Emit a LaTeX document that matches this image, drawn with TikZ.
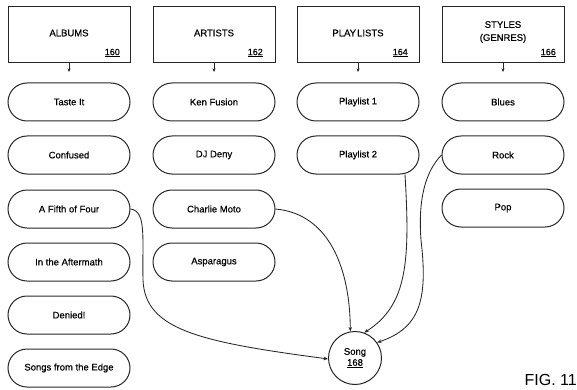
\documentclass[tikz,border=0pt]{standalone}
\usepackage{fontspec}
\setmainfont{Liberation Sans}[FakeBold=0.5]
\newfontfamily\figfont{Liberation Sans}
\usetikzlibrary{arrows.meta,calc}
\begin{document}
\begin{tikzpicture}[x=1pt,y=-1pt,
  ink/.style={draw=black!85, line width=1pt},
  hdr/.style={ink, minimum width=122pt, minimum height=56pt, inner sep=0pt},
  hdrtext/.style={font=\fontsize{9.5}{13}\selectfont, align=center, inner sep=0pt},
  num/.style={font=\fontsize{9}{10}\selectfont, inner sep=0pt, anchor=east},
  item/.style={ink, rounded corners=19pt, minimum width=122pt, minimum height=38pt, inner sep=0pt, font=\fontsize{9.5}{11}\selectfont},
  songnode/.style={ink, circle, minimum size=53pt, inner sep=0pt, align=center, font=\fontsize{9.5}{12}\selectfont},
  conn/.style={draw=black!85, line width=0.85pt, -{Stealth[length=4.5pt,width=3.5pt]}},
  stub/.style={draw=black!85, line width=0.85pt, -{Stealth[length=3.5pt,width=3pt]}}
]
\useasboundingbox (0,0) rectangle (577,390);

% header boxes
\node[hdr] (albums) at (69,35) {};
\node[hdr] (artists) at (214,35) {};
\node[hdr] (playlists) at (358,35) {};
\node[hdr] (styles) at (503,35) {};

\node[hdrtext] (albumsT) at (69,33) {ALBUMS};
\node[hdrtext] (artistsT) at (214,33) {ARTISTS};
\node[hdrtext] (playlistsT) at (358,33) {PLAY\hspace{0.12em}LISTS};
\node[hdrtext] (stylesT) at (503,32) {STYLES\\(GENRES)};

\node[num] (n160) at (120,53) {\underline{160}};
\node[num] (n162) at (263,53) {\underline{162}};
\node[num] (n164) at (408,53) {\underline{164}};
\node[num] (n166) at (556,53) {\underline{166}};

% stubs
\coordinate (sa) at (69,72);
\coordinate (sb) at (214,72);
\coordinate (sc) at (358,72);
\coordinate (sd) at (503,72);
\draw[stub] (albums.south) -- (sa);
\draw[stub] (artists.south) -- (sb);
\draw[stub] (playlists.south) -- (sc);
\draw[stub] (styles.south) -- (sd);

% albums
\node[item] (taste) at (69,102) {Taste It};
\node[item] (confused) at (69,155) {Confused};
\node[item] (fifth) at (69,209) {A Fifth of Four};
\node[item] (after) at (69,262) {In the Aftermath};
\node[item] (denied) at (69,315) {Denied!};
\node[item] (edge) at (69,368) {Songs from the Edge};

% artists
\node[item] (ken) at (214,102) {Ken Fusion};
\node[item] (dj) at (214,155) {DJ Deny};
\node[item] (charlie) at (214,209) {Charlie Moto};
\node[item] (asp) at (214,262) {Asparagus};

% playlists
\node[item] (pl1) at (358,102) {Playlist 1};
\node[item] (pl2) at (358,155) {Playlist 2};

% styles
\node[item] (blues) at (503,102) {Blues};
\node[item] (rock) at (503,155) {Rock};
\node[item] (pop) at (503,208) {Pop};

% song
\node[songnode] (song) at (355,358) {Song\\[-1pt]\underline{168}};

% connectors
\draw[conn] (fifth.east) .. controls (147,211) and (142,240) .. (143,280)
  .. controls (145,330) and (200,342) .. (song.182);
\draw[conn] (charlie.east) .. controls (330,214) and (350,270) .. (song.100);
\draw[conn] ($(pl2.south)+(47,0)$) .. controls (410,260) and (408,305) .. (song.70);
\draw[conn] (rock.west) .. controls (425,172) and (418,200) .. (421,240)
  .. controls (428,300) and (420,328) .. (song.35);

\node[font=\figfont\fontsize{16}{18}\selectfont, anchor=east, inner sep=0pt] (fig) at (577,380) {FIG. 11};
\end{tikzpicture}
\end{document}
